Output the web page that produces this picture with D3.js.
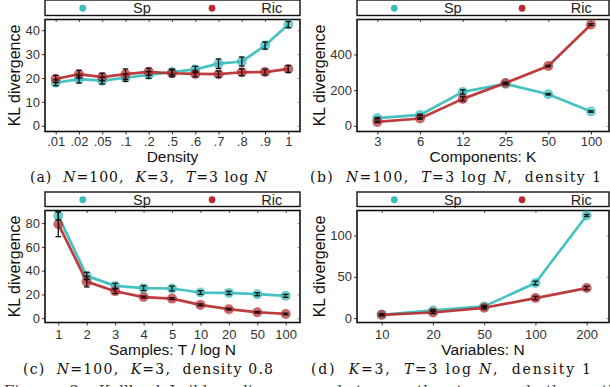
<!DOCTYPE html>
<html><head><meta charset="utf-8">
<script src="https://cdn.jsdelivr.net/npm/d3@7"></script>
<style>html,body{margin:0;padding:0;background:#fff;overflow:hidden}svg{display:block}</style>
</head><body><svg id="c" width="610" height="387"></svg>
<script>
// ---------- data ----------
const seriesNames = ["Sp", "Ric"];
const densityCats = [".01", ".02", ".05", ".1", ".2", ".5", ".6", ".7", ".8", ".9", "1"];
const densitySp = [18.0, 19.5, 18.9, 20.1, 21.3, 22.5, 23.6, 26.0, 26.9, 33.6, 42.4];
const densitySpErr = [1.2, 1.6, 1.4, 1.5, 1.4, 1.2, 1.3, 2.0, 1.9, 1.5, 1.3];
const densityRic = [19.6, 21.6, 20.4, 21.6, 22.6, 22.0, 21.7, 21.6, 22.4, 22.5, 23.8];
const densityRicErr = [1.5, 1.6, 1.6, 2.2, 1.5, 1.5, 1.2, 1.3, 1.4, 1.2, 1.4];
const densityTicks = [0, 10, 20, 30, 40];

const compCats = ["3", "6", "12", "25", "50", "100"];
const compSp = [43, 61, 190, 235, 177, 80];
const compSpErr = [4, 4, 12, 4, 4, 4];
const compRic = [22, 41, 151, 240, 335, 568];
const compRicErr = [4, 4, 12, 4, 4, 5];
const compTicks = [0, 200, 400];

const sampCats = ["1", "2", "3", "4", "5", "10", "20", "50", "100"];
const sampSp = [86.1, 35.6, 27.2, 25.3, 25.0, 21.6, 21.3, 20.2, 18.8];
const sampSpErr = [3.5, 3.0, 2.2, 2.0, 2.0, 1.6, 1.4, 1.3, 1.3];
const sampRic = [79.1, 30.8, 22.7, 17.8, 16.5, 11.2, 7.6, 5.0, 3.6];
const sampRicErr = [10.5, 4.5, 2.0, 0.8, 0.8, 0.8, 0.7, 0.6, 0.6];
const sampTicks = [0, 20, 40, 60, 80];

const varCats = ["10", "20", "50", "100", "200"];
const varSp = [4.0, 9.3, 14.2, 42.5, 124.3];
const varSpErr = [1.0, 1.0, 1.2, 2.2, 1.2];
const varRic = [4.0, 6.8, 12.5, 24.3, 36.4];
const varRicErr = [1.0, 1.2, 1.5, 2.2, 2.2];
const varTicks = [0, 50, 100];

const xTitles = ["Density", "Components: K", "Samples: T / log N", "Variables: N"];
const yTitle = "KL divergence";
const captions = [
  [["(a)  ", 0], ["N", 1], ["=100,  ", 0], ["K", 1], ["=3,  ", 0], ["T", 1], ["=3 log ", 0], ["N", 1]],
  [["(b)  ", 0], ["N", 1], ["=100,  ", 0], ["T", 1], ["=3 log ", 0], ["N", 1], [",  density 1", 0]],
  [["(c)  ", 0], ["N", 1], ["=100,  ", 0], ["K", 1], ["=3,  density 0.8", 0]],
  [["(d)  ", 0], ["K", 1], ["=3,  ", 0], ["T", 1], ["=3 log ", 0], ["N", 1], [",  density 1", 0]]
];
const footerText = "Figure 3: Kullback-Leibler divergence between the true and the estimated models.";

// ---------- layout ----------
const colors = {Sp: "#38bcbc", Ric: "#b72c2f"};
const sans = "'Liberation Sans', Arial, Helvetica, sans-serif";
const serif = "'DejaVu Serif', 'Liberation Serif', serif";

const panels = [
  {cats: densityCats, sp: densitySp, spE: densitySpErr, ric: densityRic, ricE: densityRicErr, ticks: densityTicks,
   left: 45, right: 300, top: 19.5, bottom: 131.5, xr: [55.7, 288.3], yd: [-2.4, 44.5], legTop: 0, legBot: 15.5,
   capX: 148.5, capW: 237, capY: 182, xLabY: 145.8, xTitleY: 161.5, ytOff: 25.4},
  {cats: compCats, sp: compSp, spE: compSpErr, ric: compRic, ricE: compRicErr, ticks: compTicks,
   left: 357, right: 609, top: 19.5, bottom: 131.5, xr: [377.3, 591], yd: [-31.8, 596], legTop: 0, legBot: 15.5,
   capX: 455.5, capW: 291, capY: 182, xLabY: 145.8, xTitleY: 161.5, ytOff: 32.4},
  {cats: sampCats, sp: sampSp, spE: sampSpErr, ric: sampRic, ricE: sampRicErr, ticks: sampTicks,
   left: 45, right: 300, top: 210.5, bottom: 322.5, xr: [58.3, 285.7], yd: [-3.6, 90.6], legTop: 192, legBot: 206.5,
   capX: 148, capW: 250, capY: 374, xLabY: 339, xTitleY: 355, ytOff: 25.4},
  {cats: varCats, sp: varSp, spE: varSpErr, ric: varRic, ricE: varRicErr, ticks: varTicks,
   left: 357, right: 609, top: 210.5, bottom: 322.5, xr: [381.7, 586.7], yd: [-5.3, 130.3], legTop: 192, legBot: 206.5,
   capX: 451, capW: 280, capY: 374, xLabY: 339, xTitleY: 355, ytOff: 32.4}
];

const svg = d3.select("#c");

panels.forEach((p, i) => {
  const g = svg.append("g");
  const x = d3.scalePoint().domain(p.cats).range(p.xr);
  const y = d3.scaleLinear().domain(p.yd).range([p.bottom, p.top]);
  const w = p.right - p.left;

  // legend box
  g.append("rect").attr("x", p.left).attr("y", p.legTop).attr("width", w).attr("height", p.legBot - p.legTop)
    .attr("fill", "#fff").attr("stroke", "#111").attr("stroke-width", 1.4);
  const legY = (p.legTop + p.legBot) / 2;
  [[0.148, 0.345, "Sp"], [0.655, 0.848, "Ric"]].forEach(([dx, tx, name]) => {
    g.append("circle").attr("cx", p.left + dx * w).attr("cy", legY + 0.5).attr("r", 3.4).attr("fill", colors[name]);
    g.append("text").attr("x", p.left + tx * w).attr("y", legY + 5.3).attr("font-family", sans).attr("font-size", 14.5)
      .attr("fill", "#222").text(name);
  });

  // y axis (left)
  const yAxis = d3.axisLeft(y).tickValues(p.ticks).tickSize(3).tickPadding(2);
  const ya = g.append("g").attr("transform", `translate(${p.left},0)`).call(yAxis);
  ya.select(".domain").remove();
  ya.selectAll("line").attr("stroke", "#333");
  ya.selectAll("text").attr("font-family", sans).attr("font-size", 13).attr("fill", "#333");

  // x axis (bottom)
  const xAxis = d3.axisBottom(x).tickSize(3).tickPadding(2);
  const xa = g.append("g").attr("transform", `translate(0,${p.bottom})`).call(xAxis);
  xa.select(".domain").remove();
  xa.selectAll("line").attr("stroke", "#333");
  xa.selectAll("text").attr("font-family", sans).attr("font-size", 13).attr("fill", "#333")
    .attr("dy", null).attr("y", p.xLabY - p.bottom);

  // mirrored ticks (top/right), light
  const xt = g.append("g").attr("transform", `translate(0,${p.top})`).call(d3.axisBottom(x).tickSize(2.5).tickFormat(""));
  xt.select(".domain").remove();
  xt.selectAll("line").attr("stroke", "#555");
  const yr = g.append("g").attr("transform", `translate(${p.right},0)`).call(d3.axisLeft(y).tickValues(p.ticks).tickSize(2.5).tickFormat(""));
  yr.select(".domain").remove();
  yr.selectAll("line").attr("stroke", "#999");

  // frame
  g.append("rect").attr("x", p.left).attr("y", p.top).attr("width", w).attr("height", p.bottom - p.top)
    .attr("fill", "none").attr("stroke", "#111").attr("stroke-width", 1.6);

  // axis titles
  g.append("text").attr("x", (p.left + p.right) / 2).attr("y", p.xTitleY).attr("text-anchor", "middle")
    .attr("font-family", sans).attr("font-size", 15.5).attr("fill", "#111").text(xTitles[i]);
  g.append("text").attr("transform", `translate(${p.left - p.ytOff},${(p.top + p.bottom) / 2}) rotate(-90)`)
    .attr("text-anchor", "middle").attr("font-family", sans).attr("font-size", 16).attr("fill", "#111").text(yTitle);

  // series
  const series = [["Sp", p.sp, p.spE], ["Ric", p.ric, p.ricE]];
  const line = d3.line().x((d, j) => x(p.cats[j])).y(d => y(d));
  series.forEach(([name, vals]) => {
    g.append("path").datum(vals).attr("d", line).attr("fill", "none").attr("stroke", colors[name])
      .attr("stroke-width", 2.7).attr("stroke-opacity", 0.92).attr("stroke-linejoin", "round");
    g.selectAll(null).data(vals).enter().append("circle")
      .attr("cx", (d, j) => x(p.cats[j])).attr("cy", d => y(d)).attr("r", 5)
      .attr("fill", colors[name]).attr("fill-opacity", 0.72);
  });
  series.forEach(([name, vals, errs]) => {
    vals.forEach((v, j) => {
      const cx = x(p.cats[j]);
      const y1 = y(v - errs[j]), y2 = y(v + errs[j]);
      const eg = g.append("g").attr("stroke", "#111").attr("stroke-width", 1.3);
      eg.append("line").attr("x1", cx).attr("x2", cx).attr("y1", y1).attr("y2", y2);
      eg.append("line").attr("x1", cx - 2.8).attr("x2", cx + 2.8).attr("y1", y1).attr("y2", y1);
      eg.append("line").attr("x1", cx - 2.8).attr("x2", cx + 2.8).attr("y1", y2).attr("y2", y2);
    });
  });

  // caption
  const cap = g.append("text").attr("x", p.capX - p.capW / 2).attr("y", p.capY)
    .attr("textLength", p.capW).attr("lengthAdjust", "spacing")
    .attr("font-family", serif).attr("font-size", 14).attr("fill", "#111").attr("xml:space", "preserve");
  captions[i].forEach(([t, it]) => {
    cap.append("tspan").attr("font-style", it ? "italic" : "normal").text(t);
  });
});

// footer text (cut by page edge, as in the reference)
svg.append("text").attr("x", 4).attr("y", 396).attr("font-family", serif).attr("font-size", 15)
  .attr("fill", "#444").attr("word-spacing", 10).text(footerText);
</script>
</body></html>
